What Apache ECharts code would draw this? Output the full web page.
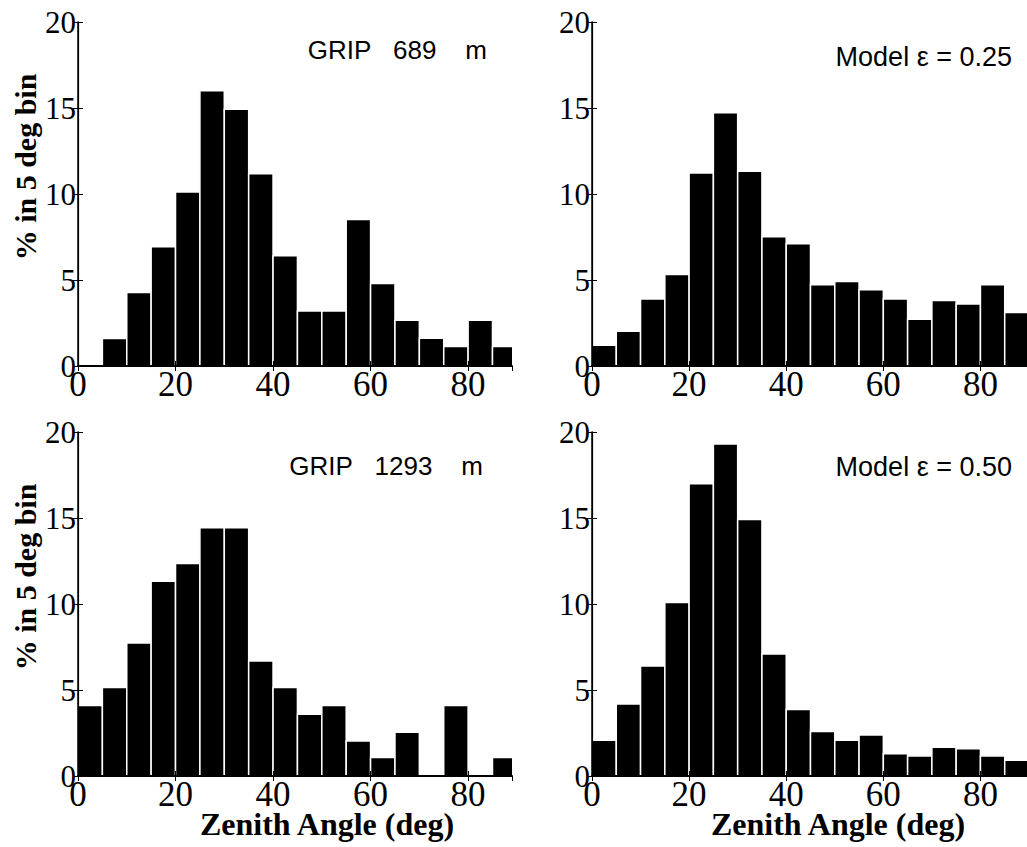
<!DOCTYPE html>
<html>
<head>
<meta charset="utf-8">
<script src="https://cdn.jsdelivr.net/npm/echarts@6/dist/echarts.min.js"></script>
<style>
  html, body { margin: 0; padding: 0; background: #fff; }
  #chart { width: 1027px; height: 847px; }
</style>
</head>
<body>
<div id="chart"></div>
<script>
// bin start (deg), each bin is 5 deg wide
const binStart = [0, 5, 10, 15, 20, 25, 30, 35, 40, 45, 50, 55, 60, 65, 70, 75, 80, 85];

// % of events in each 5 deg bin
const grip689  = [0, 1.6, 4.27, 6.93, 10.12, 16.0, 14.93, 11.18, 6.41, 3.2, 3.2, 8.52, 4.8, 2.66, 1.61, 1.13, 2.66, 1.13];
const model025 = [1.2, 2.02, 3.9, 5.32, 11.22, 14.72, 11.32, 7.51, 7.11, 4.72, 4.91, 4.43, 3.9, 2.72, 3.81, 3.61, 4.72, 3.11];
const grip1293 = [4.1, 5.15, 7.73, 11.32, 12.35, 14.43, 14.43, 6.68, 5.15, 3.59, 4.1, 2.04, 1.07, 2.54, 0, 4.1, 0, 1.07];
const model050 = [2.08, 4.19, 6.39, 10.08, 16.99, 19.3, 14.91, 7.09, 3.86, 2.58, 2.08, 2.39, 1.3, 1.17, 1.67, 1.59, 1.17, 0.91];

const panelTitles = ['GRIP\u00a0\u00a0\u00a0689\u00a0\u00a0\u00a0\u00a0m', 'Model \u03b5 = 0.25',
                     'GRIP\u00a0\u00a0\u00a01293\u00a0\u00a0\u00a0\u00a0m', 'Model \u03b5 = 0.50'];
const yTitle = '% in 5 deg bin';
const xTitle = 'Zenith Angle (deg)';

const SERIF = '"Liberation Serif", "Times New Roman", Times, serif';
const SANS = '"Liberation Sans", Arial, Helvetica, sans-serif';

// panel layout
const panels = [
  { data: grip689,  left: 78,  top: 22,  width: 434, xMax: 89, tx: 487,  ty: 50 },
  { data: model025, left: 592, top: 22,  width: 437, xMax: 90, tx: 1012, ty: 57 },
  { data: grip1293, left: 78,  top: 432, width: 434, xMax: 89, tx: 483,  ty: 466 },
  { data: model050, left: 592, top: 432, width: 437, xMax: 90, tx: 1012, ty: 467 }
];

function renderBars(params, api) {
  const lo = api.value(0);
  const v = api.value(1);
  if (!(v > 0)) return null;
  const p0 = api.coord([lo, v]);
  const p1 = api.coord([lo + 5, 0]);
  return {
    type: 'rect',
    shape: { x: p0[0], y: p0[1], width: p1[0] - p0[0], height: p1[1] - p0[1] },
    style: { fill: '#000', stroke: '#fff', lineWidth: 1.5 }
  };
}

const grid = [], xAxis = [], yAxis = [], series = [], graphic = [];

panels.forEach(function (p, i) {
  grid.push({
    left: p.left, top: p.top, width: p.width, height: 344,
    containLabel: false, outerBoundsMode: 'none', show: false
  });

  const axisLine = { show: true, lineStyle: { color: '#000', width: 1.2 } };
  const tick = { show: true, inside: true, length: 5, lineStyle: { color: '#000', width: 1 } };

  // bottom x axis with labels
  xAxis.push({
    gridIndex: i, type: 'value', position: 'bottom', min: 0, max: p.xMax, interval: 20, z: 5,
    axisLine: { show: true, onZero: false, lineStyle: { color: '#000', width: 2 } },
    axisTick: tick, splitLine: { show: false },
    axisLabel: { show: true, margin: 9, showMaxLabel: false, color: '#000',
                 fontFamily: SERIF, fontSize: 35, lineHeight: 18 }
  });
  // top x axis, ticks only
  xAxis.push({
    gridIndex: i, type: 'value', position: 'top', min: 0, max: p.xMax, interval: 20, z: 5,
    axisLine: axisLine, axisTick: tick, splitLine: { show: false }, axisLabel: { show: false }
  });
  // left y axis with labels
  yAxis.push({
    gridIndex: i, type: 'value', position: 'left', min: 0, max: 20, interval: 5, z: 5,
    axisLine: { show: true, onZero: false, lineStyle: { color: '#000', width: 1.5 } },
    axisTick: tick, splitLine: { show: false },
    axisLabel: { show: true, margin: 2, color: '#000', fontFamily: SERIF, fontSize: 31, lineHeight: 16 }
  });
  // right y axis, ticks only
  yAxis.push({
    gridIndex: i, type: 'value', position: 'right', min: 0, max: 20, interval: 5, z: 5,
    axisLine: axisLine, axisTick: tick, splitLine: { show: false }, axisLabel: { show: false }
  });

  series.push({
    type: 'custom',
    xAxisIndex: 2 * i,
    yAxisIndex: 2 * i,
    clip: true,
    renderItem: renderBars,
    encode: { x: 0, y: 1 },
    data: binStart.map(function (b, k) { return [b, p.data[k]]; })
  });

  graphic.push({
    type: 'text', x: p.tx, y: p.ty, z: 10,
    style: { text: panelTitles[i], fill: '#000', font: (i % 2 ? '27px ' : '26px ') + SANS,
             textAlign: 'right', textVerticalAlign: 'middle' }
  });
});

// axis titles
[167, 577].forEach(function (cy) {
  graphic.push({
    type: 'text', x: 25, y: cy, rotation: Math.PI / 2, z: 10,
    style: { text: yTitle, fill: '#000', font: 'bold 30px ' + SERIF,
             textAlign: 'center', textVerticalAlign: 'middle' }
  });
});
[327, 838].forEach(function (cx) {
  graphic.push({
    type: 'text', x: cx, y: 824, z: 10,
    style: { text: xTitle, fill: '#000', font: 'bold 32px ' + SERIF,
             textAlign: 'center', textVerticalAlign: 'middle' }
  });
});

const chart = echarts.init(document.getElementById('chart'), null, { renderer: 'svg' });
chart.setOption({
  backgroundColor: '#fff',
  animation: false,
  grid: grid,
  xAxis: xAxis,
  yAxis: yAxis,
  series: series,
  graphic: graphic
});
</script>
</body>
</html>
